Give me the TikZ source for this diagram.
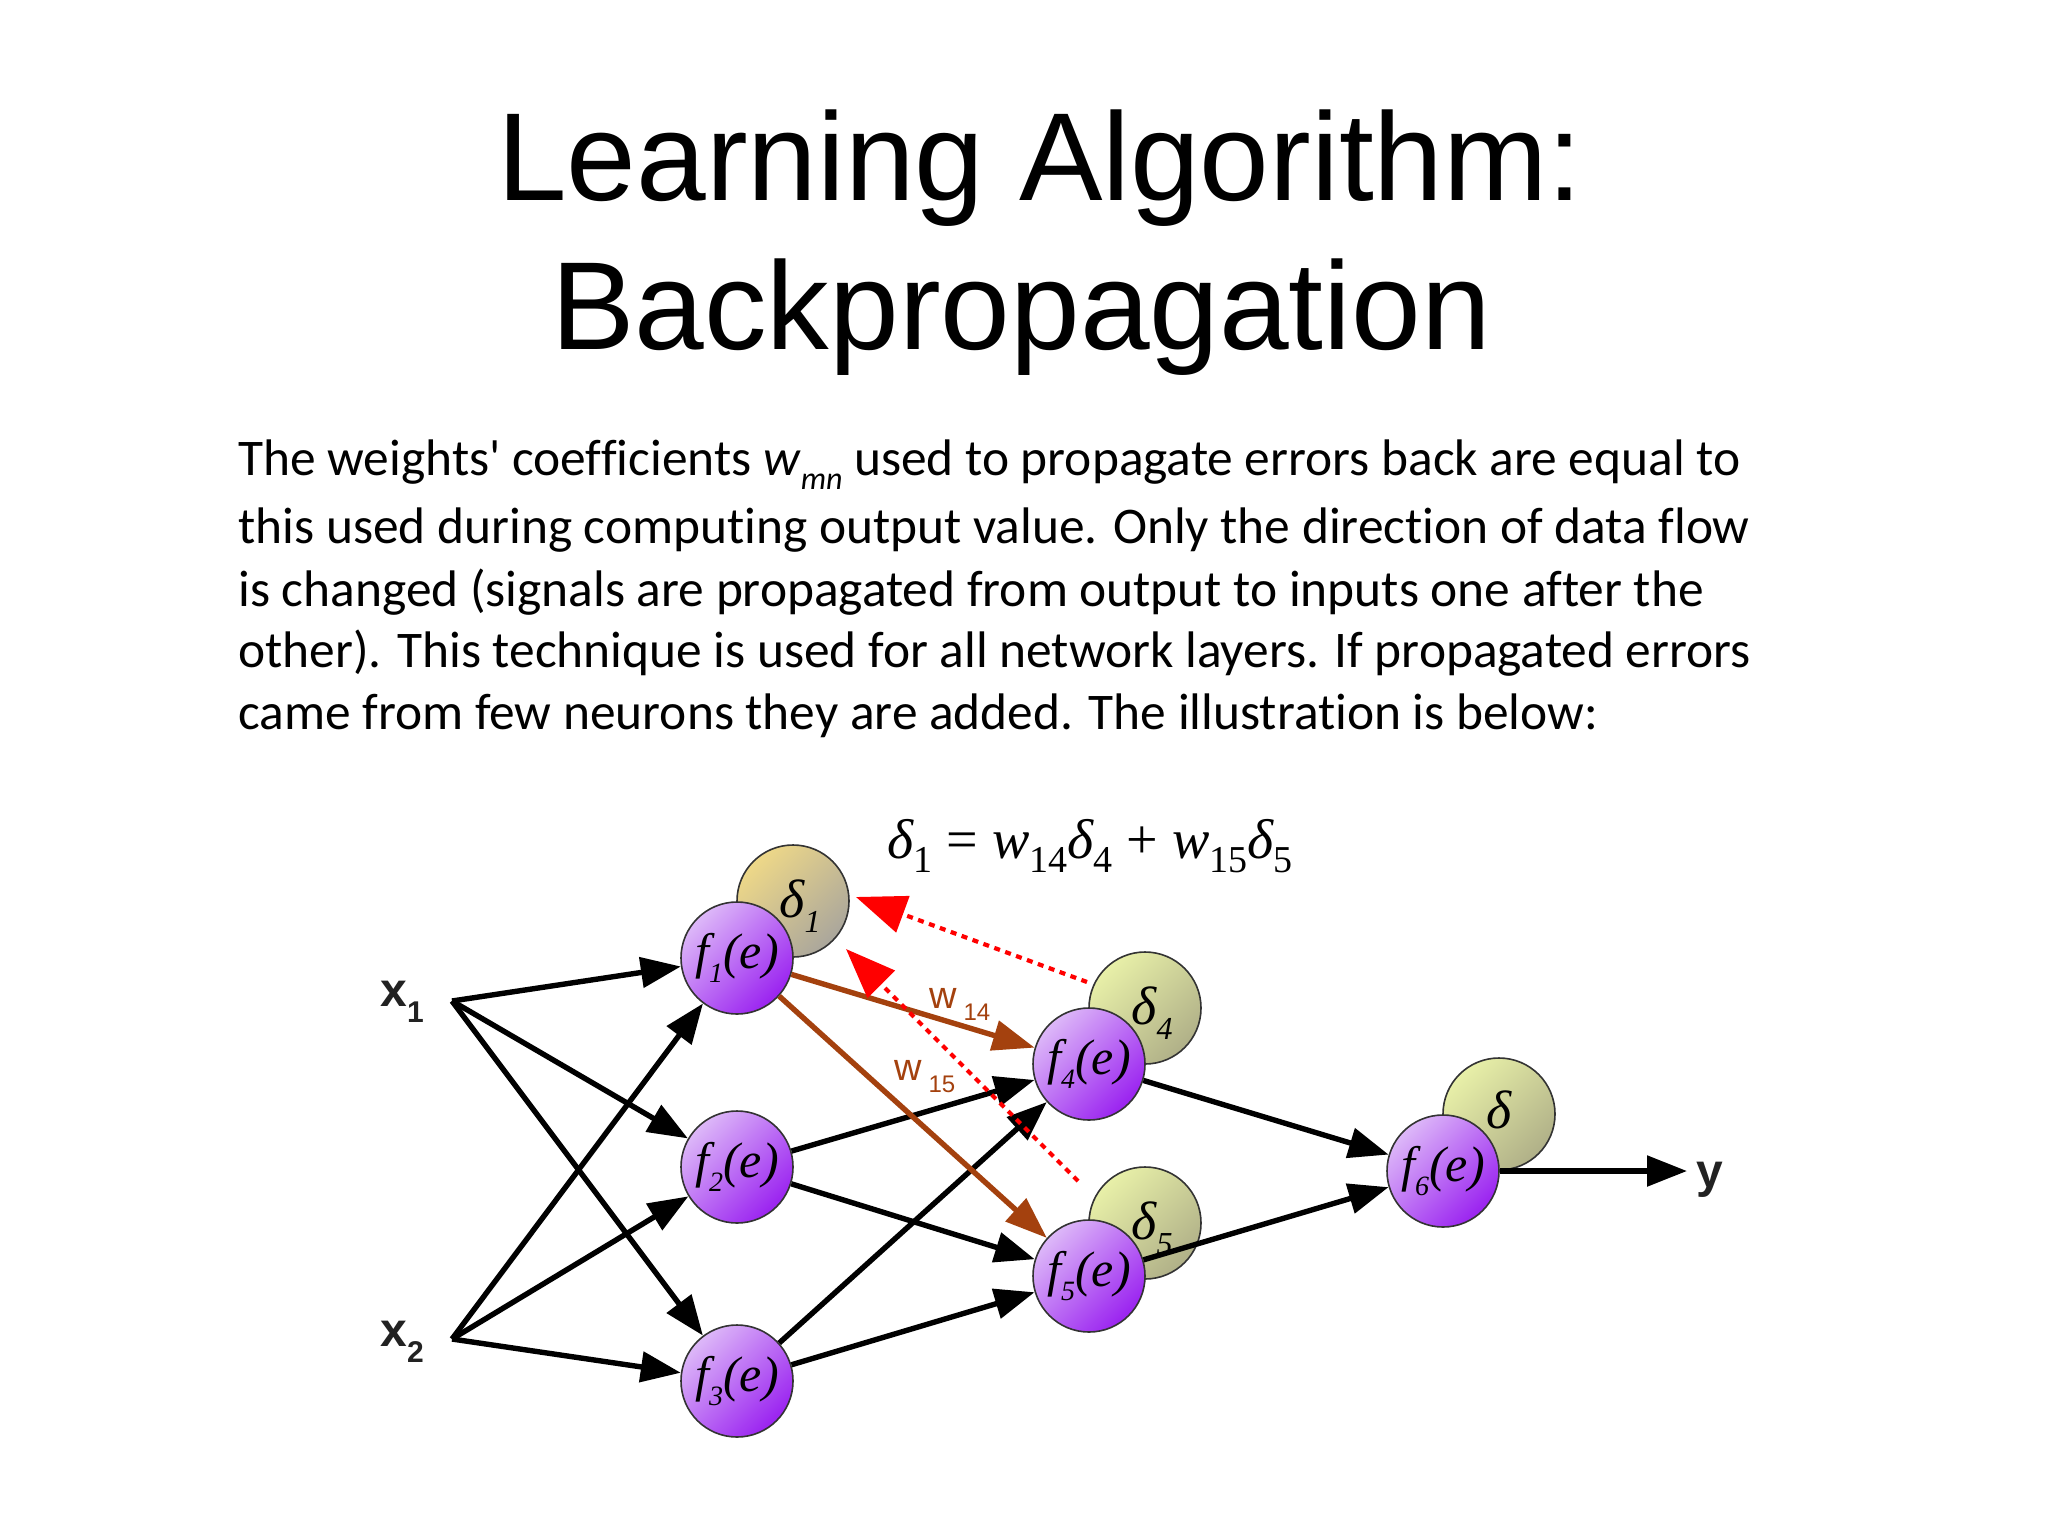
\documentclass[tikz,border=0pt]{standalone}
\usepackage{fontspec}
\setmainfont{Liberation Sans}
\newfontfamily\bodyfont[Ligatures={NoCommon}]{Carlito}
\newfontfamily\serifit{Liberation Serif}
\usetikzlibrary{arrows.meta}
\definecolor{purpL}{HTML}{DDB8F8}
\definecolor{purpD}{HTML}{9A22F0}
\definecolor{brownA}{HTML}{A4410E}
\definecolor{dgL}{HTML}{E8F0A8}
\definecolor{dgD}{HTML}{B0B088}
\definecolor{dyL}{HTML}{EED888}
\definecolor{dyD}{HTML}{AAA69C}
\definecolor{labgray}{HTML}{222222}
\newcommand\eqsub[1]{\raisebox{-0.55ex}{\upshape\fontsize{19}{19}\selectfont #1}}
\newcommand\fsub[1]{\raisebox{-0.6ex}{\fontsize{14}{14}\selectfont #1}}
\newcommand\dsub[1]{\raisebox{-0.6ex}{\fontsize{16}{16}\selectfont #1}}
\newcommand\xsub[1]{\raisebox{-8pt}{\fontsize{15}{15}\selectfont #1}}
\newcommand\wsub[1]{\raisebox{-6pt}{\fontsize{12}{12}\selectfont #1}}
\begin{document}
\begin{tikzpicture}[x=0.5pt,y=-0.5pt,
  fnode/.style={circle, draw=black!80, line width=0.8pt, minimum size=56pt, inner sep=0pt,
    top color=purpL, bottom color=purpD, shading angle=45,
    font=\serifit\itshape\fontsize{25}{25}\selectfont},
  dgnode/.style={circle, draw=black!80, line width=0.8pt, minimum size=56pt, inner sep=0pt,
    top color=dgL, bottom color=dgD, shading angle=45},
  dynode/.style={circle, draw=black!80, line width=0.8pt, minimum size=56pt, inner sep=0pt,
    top color=dyL, bottom color=dyD, shading angle=45},
  dlab/.style={font=\serifit\itshape\fontsize{27}{27}\selectfont, inner sep=0pt},
  arr/.style={line width=2.7pt, draw=black, -{Triangle[length=20pt,width=15pt]}},
  brarr/.style={line width=2.7pt, draw=brownA, -{Triangle[length=21pt,width=15pt]}},
  redarr/.style={line width=2.1pt, draw=red, dash pattern=on 3pt off 2.8pt, -{Triangle[length=25pt,width=19pt]}},
  inlab/.style={font=\bfseries\fontsize{24}{24}\selectfont, text=labgray, inner sep=0pt},
  wlab/.style={font=\fontsize{19}{19}\selectfont, text=brownA, inner sep=0pt}
]
\useasboundingbox (0,0) rectangle (2048,1536);
\fill[white] (0,0) rectangle (2048,1536);

% title
\node[anchor=base, inner sep=0pt, font=\fontsize{62.6}{62.6}\selectfont] (t1) at (1040,200) {Learning Algorithm:};
\node[anchor=base, inner sep=0pt, font=\fontsize{62.6}{62.6}\selectfont] (t2) at (1021,349) {Backpropagation};

% body text
\begin{scope}[every node/.style={anchor=base west, inner sep=0pt, font=\bodyfont\fontsize{25.7}{25.7}\selectfont}]
\node (b1) at (238,475) {The weights\textquotesingle{} coefficients \textit{w}\raisebox{-0.6ex}{\fontsize{16}{16}\selectfont\itshape mn} used to propagate errors back are equal to};
\node (b2) at (238,543) {this used during computing output value. Only the direction of data flow};
\node (b3) at (238,606) {is changed (signals are propagated from output to inputs one after the};
\node (b4) at (238,667) {other). This technique is used for all network layers. If propagated errors};
\node (b5) at (238,729) {came from few neurons they are added. The illustration is below:};
\end{scope}

% equation
\node[anchor=base, inner sep=0pt, font=\serifit\fontsize{28}{28}\selectfont] (eq) at (1090,858)
 {\itshape δ\eqsub{1} \upshape= \itshape w\eqsub{14}δ\eqsub{4} \upshape+ \itshape w\eqsub{15}δ\eqsub{5}};

% delta circles
\node[dynode] (d1) at (793,901) {};
\node[dgnode] (d4) at (1145,1008) {};
\node[dgnode] (d5) at (1145,1223) {};
\node[dgnode] (d6) at (1499,1114) {};
\node[dlab] at (800,906) {δ\dsub{1}};
\node[dlab] at (1152,1013) {δ\dsub{4}};
\node[dlab] at (1152,1228) {δ\dsub{5}};
\node[dlab] at (1499,1110) {δ};

% neurons
\node[fnode] (f1) at (737,958) {f\fsub{1}(e)};
\node[fnode] (f2) at (737,1167) {f\fsub{2}(e)};
\node[fnode] (f3) at (737,1381) {f\fsub{3}(e)};
\node[fnode] (f4) at (1089,1064) {f\fsub{4}(e)};
\node[fnode] (f5) at (1089,1276) {f\fsub{5}(e)};
\node[fnode] (f6) at (1443,1171) {f\fsub{6}(e)};

% inputs / output
\node[inlab] (x1) at (402,1002) {x\xsub{1}};
\node[inlab] (x2) at (402,1342) {x\xsub{2}};
\node[inlab] (y) at (1710,1180) {y};
\coordinate (x1p) at (452,1001);
\coordinate (x2p) at (452,1339);
\coordinate (yp) at (1687,1171);

% input connections
\draw[arr] (x1p) -- (f1);
\draw[arr] (x1p) -- (f2);
\draw[arr] (x1p) -- (f3);
\draw[arr] (x2p) -- (f1);
\draw[arr] (x2p) -- (f2);
\draw[arr] (x2p) -- (f3);

% hidden connections
\draw[arr] (f2) -- (f4);
\draw[arr] (f2) -- (f5);
\draw[arr] (f3) -- (f4);
\draw[arr] (f3) -- (f5);
\draw[brarr] (f1) -- (f4);
\draw[brarr] (f1) -- (f5);
\draw[arr] (f4) -- (f6);
\draw[arr] (f5) -- (f6);
\draw[arr] (f6) -- (yp);

% weight labels
\node[wlab] (w14) at (960,1004) {w\,\wsub{14}};
\node[wlab] (w15) at (925,1077) {w\,\wsub{15}};

% back-propagated errors
\coordinate (r1s) at (1087,982);
\coordinate (r1e) at (856,897);
\coordinate (r2s) at (1078,1181);
\coordinate (r2e) at (846,949);
\draw[redarr] (r1s) -- (r1e);
\draw[redarr] (r2s) -- (r2e);
\end{tikzpicture}
\end{document}
